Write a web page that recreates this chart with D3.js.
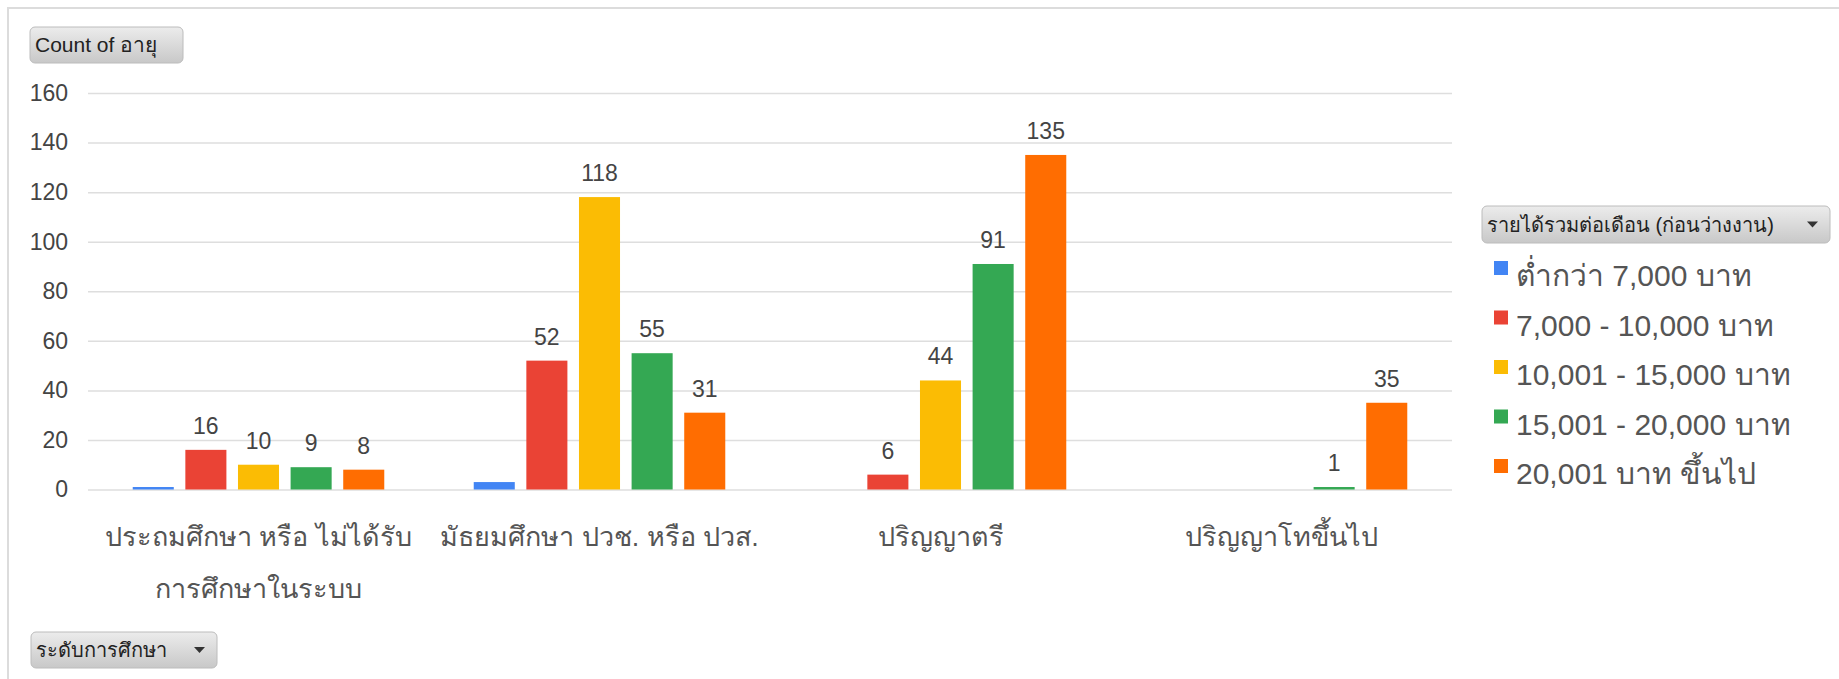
<!DOCTYPE html>
<html>
<head>
<meta charset="utf-8">
<script src="https://cdn.jsdelivr.net/npm/d3@7"></script>
<style>
    body { margin: 0; background: #fff; }
    svg { display: block; font-family: 'Liberation Sans', Arial, 'Noto Sans', sans-serif; }
</style>
</head>
<body>
<svg id="chart" width="1839" height="679"></svg>
<script>
// education levels (x axis), a "\n" marks where the label wraps
const categories = [
    'ประถมศึกษา หรือ ไม่ได้รับ\nการศึกษาในระบบ',
    'มัธยมศึกษา ปวช. หรือ ปวส.',
    'ปริญญาตรี',
    'ปริญญาโทขึ้นไป'
];
const series = [
    'ต่ำกว่า 7,000 บาท',
    '7,000 - 10,000 บาท',
    '10,001 - 15,000 บาท',
    '15,001 - 20,000 บาท',
    '20,001 บาท ขึ้นไป'
];
// one array per income band, in category order
const below7000 = [1, 3, 0, 0];
const from7000 = [16, 52, 6, 0];
const from10001 = [10, 118, 44, 0];
const from15001 = [9, 55, 91, 1];
const from20001 = [8, 31, 135, 35];
const yTicks = [0, 20, 40, 60, 80, 100, 120, 140, 160];

const colors = ['#4285f4', '#ea4335', '#fbbc04', '#34a853', '#ff6d01'];
const values = [below7000, from7000, from10001, from15001, from20001];

const svg = d3.select('#chart');
const defs = svg.append('defs');

const grad = defs.append('linearGradient')
    .attr('id', 'btn-gradient')
    .attr('x1', '0%').attr('x2', '0%')
    .attr('y1', '0%').attr('y2', '100%');
grad.append('stop').attr('offset', '0%').attr('stop-color', '#ececec');
grad.append('stop').attr('offset', '100%').attr('stop-color', '#c8c8c8');

// outer frame (only top and left edges are visible)
svg.append('path')
    .attr('d', 'M8,679 V8 H1839')
    .attr('fill', 'none')
    .attr('stroke', '#dcdcdc')
    .attr('stroke-width', 2);

function drawButton(x, y, w, h, label, fontSize, arrow) {
    const g = svg.append('g').attr('transform', `translate(${x},${y})`);
    g.append('rect')
        .attr('width', w)
        .attr('height', h)
        .attr('rx', 5)
        .attr('fill', 'url(#btn-gradient)')
        .attr('stroke', '#bcbcbc');
    g.append('text')
        .attr('x', 5)
        .attr('y', h / 2)
        .attr('dy', '0.35em')
        .attr('font-size', fontSize)
        .attr('fill', '#222')
        .text(label);
    if (arrow) {
        g.append('path')
            .attr('d', `M${w - 23},${h / 2 - 3} h11 l-5.5,6 z`)
            .attr('fill', '#333');
    }
}

const plot = {left: 88, right: 1452, top: 93, bottom: 489.5};

const x0 = d3.scaleBand()
    .domain(categories)
    .range([plot.left, plot.right]);

const x1 = d3.scaleBand()
    .domain(series)
    .range([0, x0.bandwidth()])
    .paddingInner(0.22)
    .paddingOuter(0.85);

const y = d3.scaleLinear()
    .domain([0, 160])
    .range([plot.bottom, plot.top]);

// gridlines + tick labels
const yAxis = svg.append('g')
    .attr('transform', `translate(${plot.left},0)`)
    .call(d3.axisLeft(y)
        .tickValues(yTicks)
        .tickSize(-(plot.right - plot.left))
        .tickPadding(20));
yAxis.select('.domain').remove();
yAxis.selectAll('line').attr('stroke', '#dedede').attr('stroke-width', 1.5);
yAxis.selectAll('text')
    .attr('font-size', 23)
    .attr('fill', '#444')
    .attr('font-family', 'Liberation Sans, Arial, sans-serif');

// bars
const groups = svg.append('g')
  .selectAll('g')
  .data(categories)
  .join('g')
    .attr('transform', (d) => `translate(${x0(d)},0)`);

groups.selectAll('rect')
  .data((d, ci) => series.map((s, si) => ({s, si, v: values[si][ci]})))
  .join('rect')
    .attr('x', (d) => x1(d.s))
    .attr('y', (d) => y(d.v))
    .attr('width', x1.bandwidth())
    .attr('height', (d) => y(0) - y(d.v))
    .attr('fill', (d) => colors[d.si]);

// value labels, the lowest band has none in the original
groups.selectAll('text.value')
  .data((d, ci) => series.map((s, si) => ({s, si, v: values[si][ci]}))
      .filter((d) => d.si > 0 && d.v > 0))
  .join('text')
    .classed('value', true)
    .attr('x', (d) => x1(d.s) + x1.bandwidth() / 2)
    .attr('y', (d) => y(d.v) - 16)
    .attr('text-anchor', 'middle')
    .attr('font-size', 23)
    .attr('fill', '#444')
    .text((d) => d.v);

// category labels
svg.append('g')
  .selectAll('text')
  .data(categories)
  .join('text')
    .attr('x', (d) => x0(d) + x0.bandwidth() / 2)
    .attr('y', 546)
    .attr('text-anchor', 'middle')
    .attr('font-size', 27)
    .attr('fill', '#555')
  .selectAll('tspan')
  .data((d) => d.split('\n'))
  .join('tspan')
    .attr('x', function() { return this.parentNode.getAttribute('x'); })
    .attr('dy', (d, i) => i === 0 ? 0 : 52)
    .text((d) => d);

// legend
const legend = svg.append('g')
  .selectAll('g')
  .data(series)
  .join('g')
    .attr('transform', (d, i) => `translate(1494,${261 + i * 49.5})`);
legend.append('rect')
    .attr('width', 14)
    .attr('height', 14)
    .attr('fill', (d, i) => colors[i]);
legend.append('text')
    .attr('x', 22)
    .attr('y', 25)
    .attr('font-size', 30)
    .attr('fill', '#555')
    .text((d) => d);

drawButton(30, 27, 153, 36, 'Count of อายุ', 21, false);
drawButton(1482, 206, 348, 37, 'รายได้รวมต่อเดือน (ก่อนว่างงาน)', 20, true);
drawButton(31, 632, 186, 36, 'ระดับการศึกษา', 20, true);
</script>
</body>
</html>
